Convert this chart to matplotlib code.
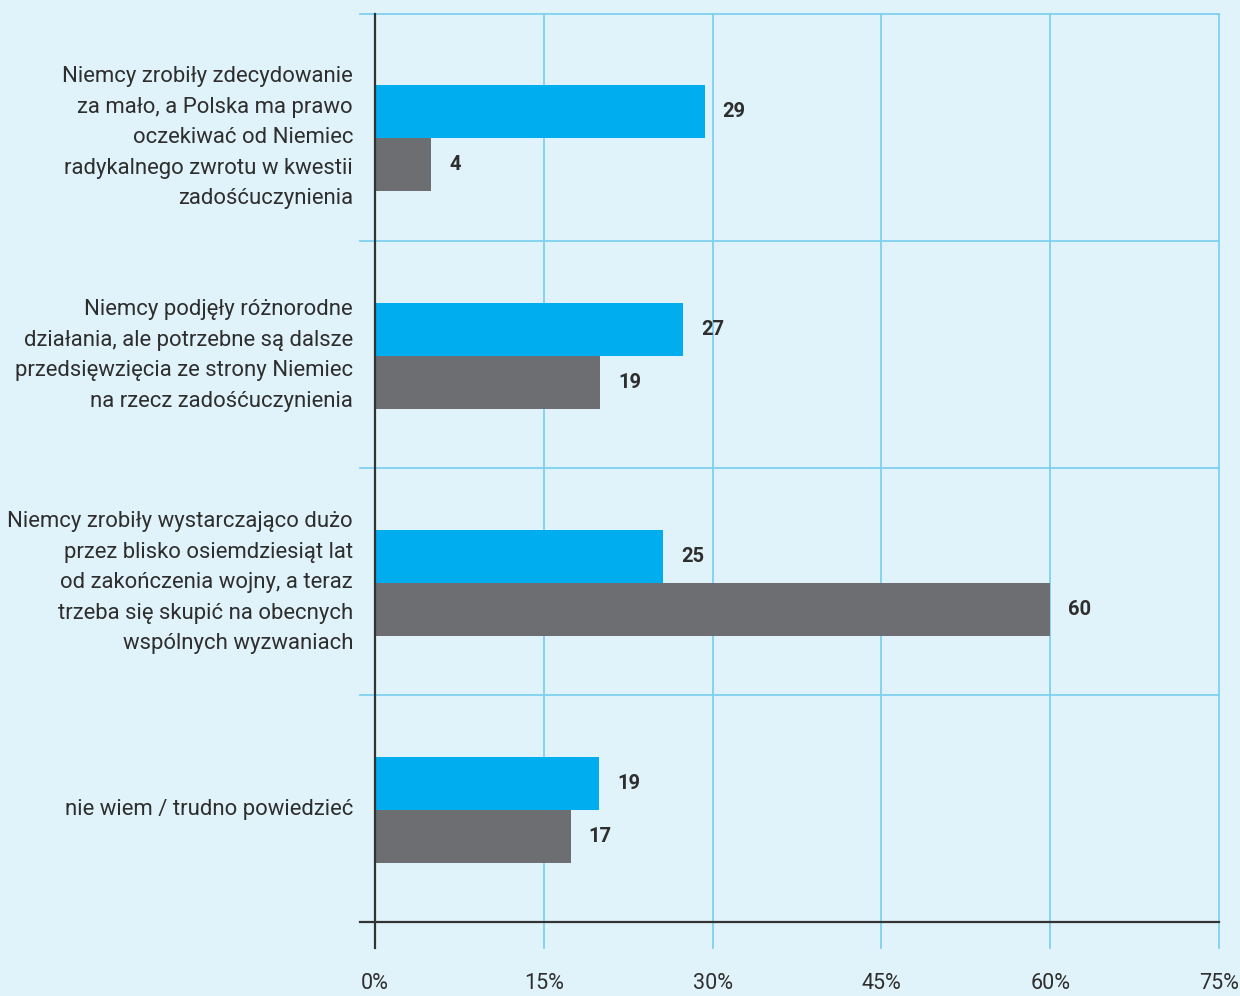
import matplotlib.pyplot as plt

kategorie = [
    "Niemcy zrobiły zdecydowanie\nza mało, a Polska ma prawo\noczekiwać od Niemiec\nradykalnego zwrotu w kwestii\nzadośćuczynienia",
    "Niemcy podjęły różnorodne\ndziałania, ale potrzebne są dalsze\nprzedsięwzięcia ze strony Niemiec\nna rzecz zadośćuczynienia",
    "Niemcy zrobiły wystarczająco dużo\nprzez blisko osiemdziesiąt lat\nod zakończenia wojny, a teraz\ntrzeba się skupić na obecnych\nwspólnych wyzwaniach",
    "nie wiem / trudno powiedzieć",
]
# dlugosci slupkow, etykiety jak na oryginale
seria_niebieska = [29.3, 27.4, 25.6, 19.9]
seria_szara = [5.0, 20.0, 60.0, 17.4]
etykiety_niebieskie = ["29", "27", "25", "19"]
etykiety_szare = ["4", "19", "60", "17"]
ticki = [0, 15, 30, 45, 60, 75]

TLO = "#e1f3fa"
SIATKA = "#7fd0f0"
NIEBIESKI = "#00aeef"
SZARY = "#6d6e71"
TEKST = "#2e2e2e"

plt.rcParams["font.family"] = ["Roboto", "DejaVu Sans"]

fig = plt.figure(figsize=(12.4, 9.96), dpi=100, facecolor=TLO)
W, H = 1240, 996
x0, x1, y0, y1 = 375, 1219, 14, 922
ax = fig.add_axes([x0 / W, 1 - y1 / H, (x1 - x0) / W, (y1 - y0) / H])
ax.set_facecolor(TLO)

n = len(kategorie)
ax.set_xlim(0, 75)
ax.set_ylim(n, 0)
h = 0.233
# pierwsza grupa jest na oryginale lekko przesunieta w dol
przesuniecie = [0.045, 0.005, 0.005, 0.005]
for i in range(n):
    c = i + 0.5 + przesuniecie[i]
    ax.barh(c - h / 2, seria_niebieska[i], height=h, color=NIEBIESKI, zorder=3)
    ax.barh(c + h / 2, seria_szara[i], height=h, color=SZARY, zorder=3)
    ax.text(seria_niebieska[i] + 1.6, c - h / 2, etykiety_niebieskie[i], va="center",
            ha="left", fontsize=14.5, fontweight="bold", color=TEKST)
    ax.text(seria_szara[i] + 1.6, c + h / 2, etykiety_szare[i], va="center",
            ha="left", fontsize=14.5, fontweight="bold", color=TEKST)
    ax.text(-1.95, c, kategorie[i], ha="right", va="center", fontsize=15.9,
            color=TEKST, linespacing=1.6)

for s in ax.spines.values():
    s.set_visible(False)

# pionowe linie siatki (wystaja ponizej osi)
ext = 26 / (y1 - y0)
for t in ticki[1:]:
    ax.plot([t, t], [1, -ext], transform=ax.get_xaxis_transform(), color=SIATKA,
            lw=1.3, clip_on=False, zorder=1)
ax.plot([0, 0], [1, -ext], transform=ax.get_xaxis_transform(), color="#333333",
        lw=1.6, clip_on=False, zorder=4)

# poziome linie miedzy kategoriami
lewy = -15 / (x1 - x0)
for k in range(n):
    ax.plot([lewy, 1], [k, k], transform=ax.get_yaxis_transform(), color=SIATKA,
            lw=1.3, clip_on=False, zorder=1)
ax.plot([lewy, 1], [n, n], transform=ax.get_yaxis_transform(), color="#333333",
        lw=1.6, clip_on=False, zorder=4)

ax.set_yticks([])
ax.set_xticks(ticki)
ax.set_xticklabels([f"{t}%" for t in ticki])
ax.tick_params(axis="x", length=0, pad=37, labelsize=15.5, labelcolor=TEKST)

fig.savefig("out.png", dpi=100, facecolor=TLO)
